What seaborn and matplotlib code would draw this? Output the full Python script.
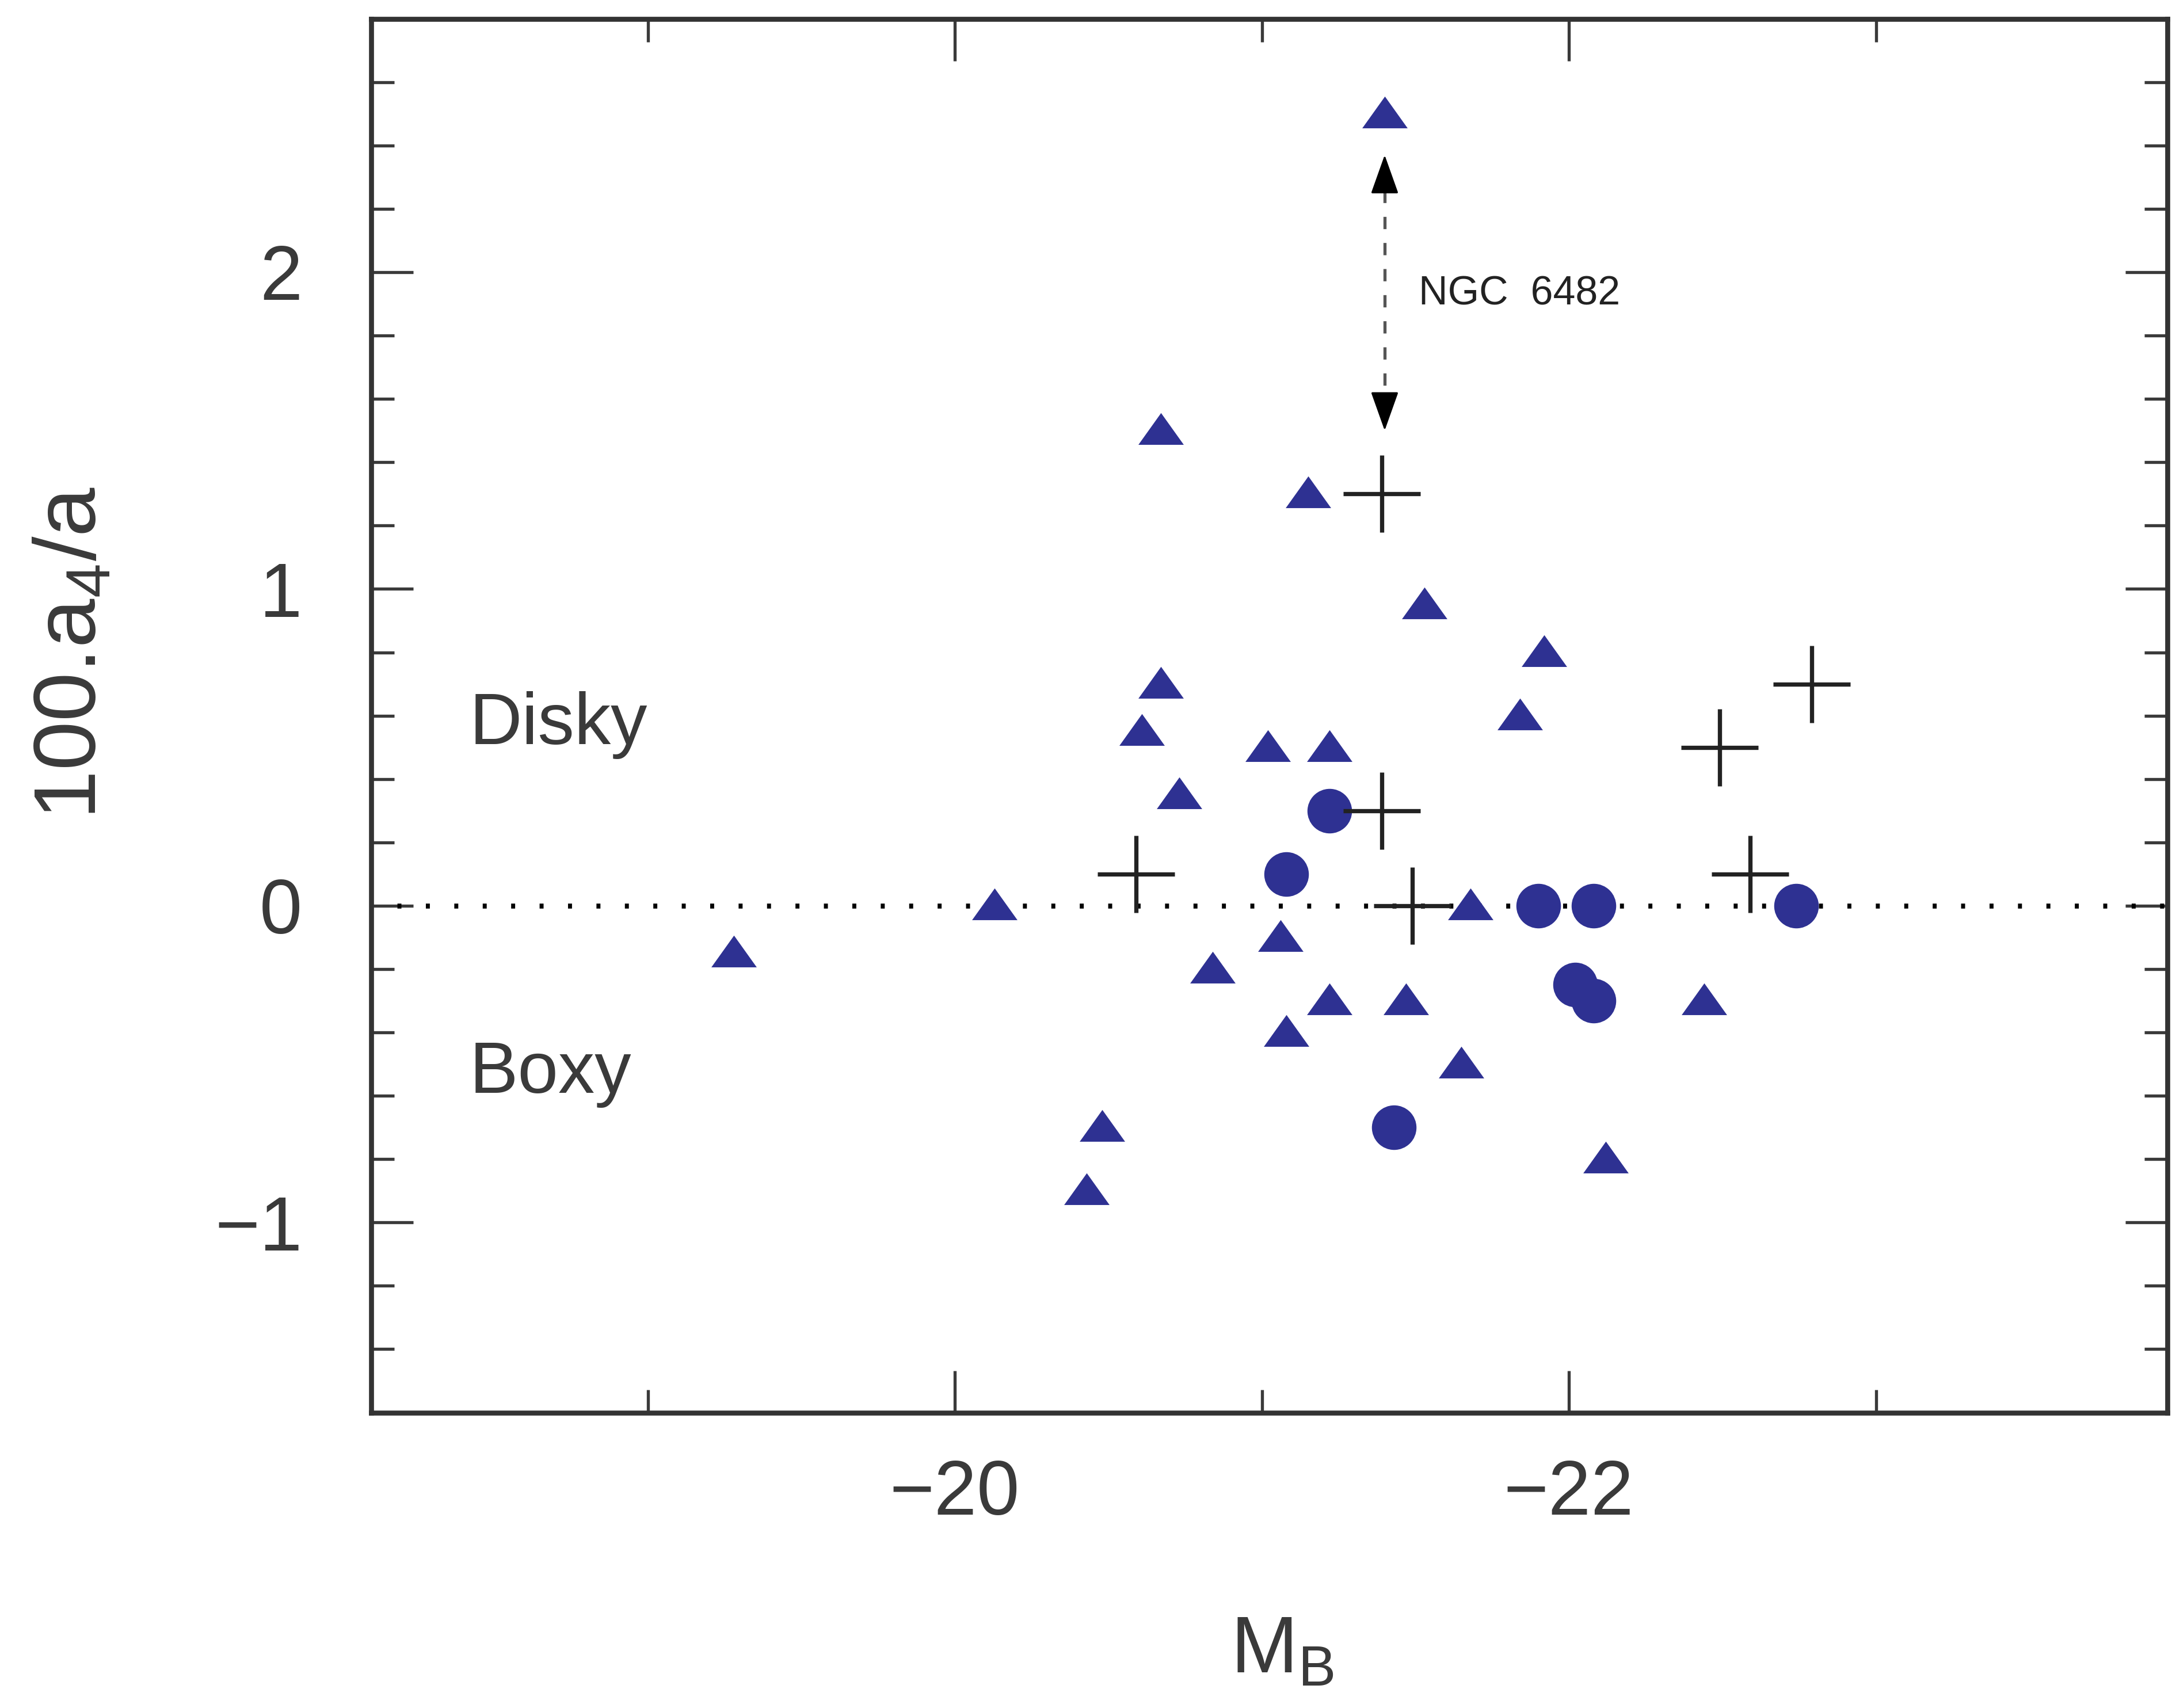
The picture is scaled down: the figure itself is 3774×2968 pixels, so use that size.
import matplotlib
matplotlib.use("Agg")

import matplotlib.pyplot as plt
from matplotlib.ticker import MultipleLocator
import pandas as pd
import seaborn as sns

# galaxies: absolute B magnitude vs 100*a4/a
tri_mb = [-21.40, -20.67, -21.15, -21.53, -21.92, -20.67, -20.61, -21.84,
          -21.02, -21.22, -20.73, -20.13, -21.68, -19.28, -21.06, -20.84,
          -21.22, -21.47, -22.44, -21.08, -21.65, -20.48, -20.43, -22.12]
tri_a4 = [2.50, 1.50, 1.30, 0.95, 0.80, 0.70, 0.55, 0.60,
          0.50, 0.50, 0.35, 0.00, 0.00, -0.15, -0.10, -0.20,
          -0.30, -0.30, -0.30, -0.40, -0.50, -0.70, -0.90, -0.80]

dot_mb = [-21.22, -21.08, -21.90, -22.08, -22.74, -22.02, -22.08, -21.43]
dot_a4 = [0.30, 0.10, 0.00, 0.00, 0.00, -0.25, -0.30, -0.70]

cross_mb = [-21.39, -22.79, -22.49, -21.39, -20.59, -22.59, -21.49]
cross_a4 = [1.30, 0.70, 0.50, 0.30, 0.10, 0.10, 0.00]

BLUE = "#2e3192"
INK = "#3a3a3a"


def main():
    sns.set_theme(style="ticks")
    plt.rcParams["font.family"] = ["Liberation Sans", "DejaVu Sans"]
    plt.rcParams["mathtext.fontset"] = "custom"
    plt.rcParams["mathtext.rm"] = "Liberation Sans"

    fig = plt.figure(figsize=(3774 / 240, 2968 / 240), dpi=240)
    ax = fig.add_axes([0.171, 0.173, 0.827, 0.816])

    tri = pd.DataFrame({"MB": tri_mb, "a4": tri_a4})
    dots = pd.DataFrame({"MB": dot_mb, "a4": dot_a4})
    crosses = pd.DataFrame({"MB": cross_mb, "a4": cross_a4})

    # squat triangle, wider than tall like the original
    tri_marker = [(-1, -0.62), (1, -0.62), (0, 0.78), (-1, -0.62)]

    ax.axhline(0, color="black", lw=2.6, linestyle=(0.5, (0.8, 4.9)), zorder=1)

    sns.scatterplot(data=tri, x="MB", y="a4", marker=tri_marker, s=560,
                    color=BLUE, linewidth=0, ax=ax, zorder=3)
    sns.scatterplot(data=dots, x="MB", y="a4", marker="o", s=540,
                    color=BLUE, linewidth=0, ax=ax, zorder=3)
    sns.scatterplot(data=crosses, x="MB", y="a4", marker="+", s=1600,
                    color="#222222", linewidth=2.2, ax=ax, zorder=3)

    # NGC 6482 double arrow
    ax.vlines(-21.40, 1.56, 2.30, color="#555555", lw=1.6,
              linestyles=(0, (4, 4.5)), zorder=2)
    head = dict(arrowstyle="-|>,head_length=0.9,head_width=0.32", color="black",
                lw=1, mutation_scale=20, shrinkA=0, shrinkB=0)
    ax.annotate("", xy=(-21.40, 2.37), xytext=(-21.40, 2.28), arrowprops=head)
    ax.annotate("", xy=(-21.40, 1.50), xytext=(-21.40, 1.59), arrowprops=head)
    ax.text(-21.51, 1.93, "NGC  6482", fontsize=21, color="#222222",
            ha="left", va="center")

    ax.text(-18.42, 0.57, "Disky", fontsize=38, color=INK, ha="left", va="center")
    ax.text(-18.42, -0.53, "Boxy", fontsize=38, color=INK, ha="left", va="center")

    ax.set_xlim(-18.1, -23.95)
    ax.set_ylim(-1.6, 2.8)
    ax.xaxis.set_major_locator(MultipleLocator(2))
    ax.xaxis.set_minor_locator(MultipleLocator(1))
    ax.yaxis.set_major_locator(MultipleLocator(1))
    ax.yaxis.set_minor_locator(MultipleLocator(0.2))

    ax.tick_params(which="both", direction="in", top=True, right=True,
                   color=INK, labelcolor=INK)
    ax.tick_params(which="major", length=22, width=1.6, labelsize=40)
    ax.tick_params(which="minor", length=12, width=1.6)
    ax.tick_params(axis="x", which="major", pad=24)
    ax.tick_params(axis="y", which="major", pad=36)

    for side in ["left", "right", "top", "bottom"]:
        ax.spines[side].set_color("#333333")
        ax.spines[side].set_linewidth(2.6)

    ax.set_xlabel(r"M$_{\mathregular{B}}$", fontsize=42, color=INK)
    ax.set_ylabel(r"100.a$_{\mathregular{4}}$/a", fontsize=46, color=INK)
    ax.xaxis.set_label_coords(0.507, -0.145)
    ax.yaxis.set_label_coords(-0.143, 0.545)

    plt.savefig("out.png", dpi=240)
    plt.close()


if __name__ == "__main__":
    main()
